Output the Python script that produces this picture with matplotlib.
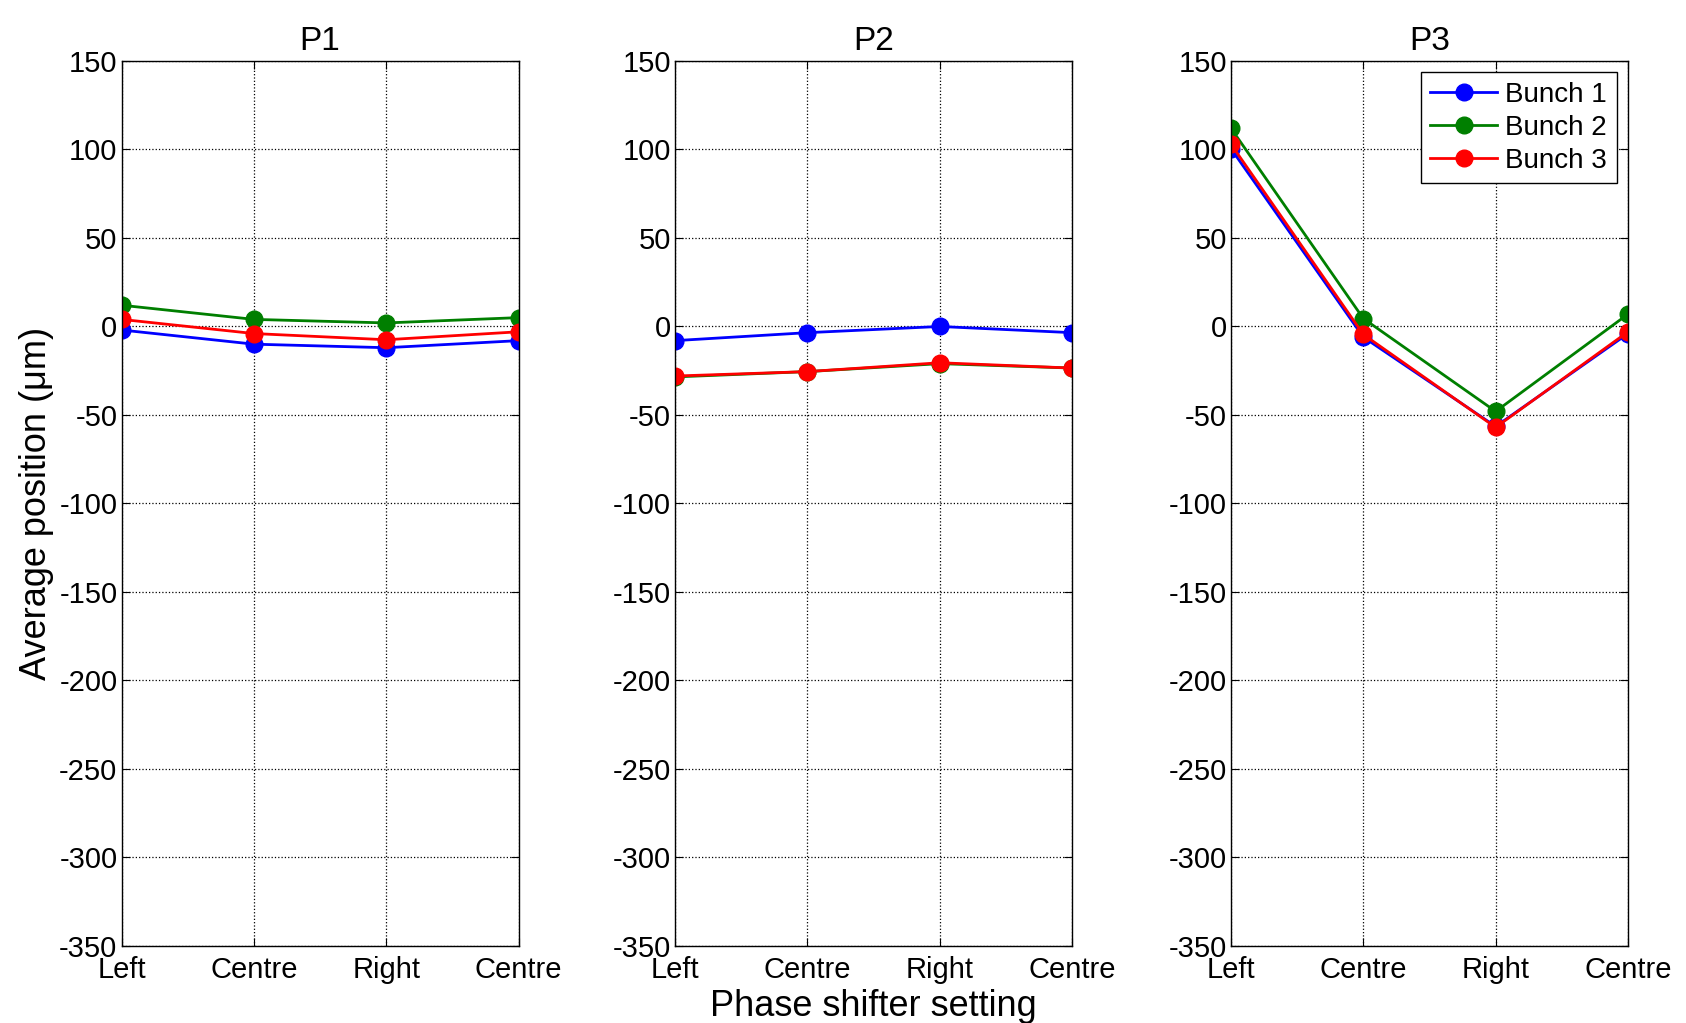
import matplotlib.pyplot as plt
import numpy as np

plt.rcParams['font.family'] = ['Liberation Sans', 'DejaVu Sans']
plt.rcParams['axes.unicode_minus'] = False

# Données
settings = ['Left', 'Centre', 'Right', 'Centre']
panels = ['P1', 'P2', 'P3']

p1_bunch1 = [-2, -10, -12, -8]
p1_bunch2 = [12, 4, 2, 5]
p1_bunch3 = [4, -4, -7.5, -3]

p2_bunch1 = [-8, -3.5, 0, -3.5]
p2_bunch2 = [-28.5, -25.5, -21, -23.5]
p2_bunch3 = [-28, -25.5, -20.5, -23.5]

p3_bunch1 = [100.5, -6, -56.5, -4]
p3_bunch2 = [112, 4.5, -48, 7]
p3_bunch3 = [103, -4.5, -57, -3]

data = [
    (p1_bunch1, p1_bunch2, p1_bunch3),
    (p2_bunch1, p2_bunch2, p2_bunch3),
    (p3_bunch1, p3_bunch2, p3_bunch3),
]
labels = ['Bunch 1', 'Bunch 2', 'Bunch 3']
colors = ['#0000ff', '#007f00', '#ff0000']

fig = plt.figure(figsize=(16.86, 10.23), dpi=100)
lefts = [0.0721, 0.4004, 0.7301]
x = np.arange(len(settings))

for i, (name, series) in enumerate(zip(panels, data)):
    ax = fig.add_axes([lefts[i], 0.0753, 0.2355, 0.8651])
    for vals, lab, col in zip(series, labels, colors):
        ax.plot(x, vals, '-o', color=col, lw=2.0, ms=12, label=lab)
    ax.set_xlim(0, 3)
    ax.set_ylim(-350, 150)
    ax.set_yticks(np.arange(-350, 151, 50))
    ax.set_xticks(x)
    ax.set_xticklabels(settings)
    ax.grid(True, color='black', linestyle=':', linewidth=0.9)
    ax.tick_params(direction='in', top=True, right=True, labelsize=21, length=6)
    ax.tick_params(axis='x', pad=7)
    ax.tick_params(axis='y', pad=3)
    for s in ax.spines.values():
        s.set_linewidth(1.0)
    ax.set_title(name, fontsize=24, pad=8)
    if i == 0:
        ax.set_ylabel('Average position (\u03bcm)', fontsize=26, labelpad=4)
    if i == 1:
        ax.set_xlabel('Phase shifter setting', fontsize=26, labelpad=4)
    if i == 2:
        leg = ax.legend(loc='upper right', fontsize=20, fancybox=False, framealpha=1,
                        edgecolor='black', handlelength=2.4, borderpad=0.35,
                        labelspacing=0.25, handletextpad=0.3, borderaxespad=0.4)
        leg.get_frame().set_linewidth(1.0)

fig.savefig('out.png', dpi=100)
